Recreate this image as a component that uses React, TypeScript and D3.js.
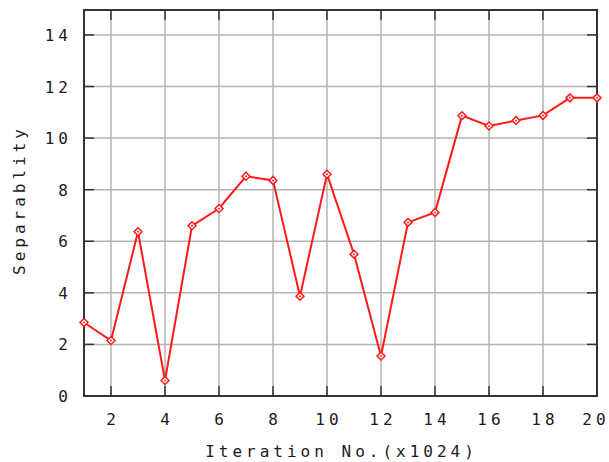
import { useEffect, useRef } from 'react';
import * as d3 from 'd3';

const iterations = [1, 2, 3, 4, 5, 6, 7, 8, 9, 10, 11, 12, 13, 14, 15, 16, 17, 18, 19, 20];
const separability = [2.85, 2.15, 6.37, 0.6, 6.6, 7.27, 8.52, 8.36, 3.87, 8.6, 5.5, 1.55, 6.73, 7.12, 10.87, 10.47, 10.68, 10.88, 11.56, 11.56];
const xTicks = [2, 4, 6, 8, 10, 12, 14, 16, 18, 20];
const yTicks = [0, 2, 4, 6, 8, 10, 12, 14];

const FONT = '"DejaVu Sans Mono", monospace';
const LS = 4;

const App = () => {
  const svgRef = useRef<SVGSVGElement>(null);

  useEffect(() => {
    drawChart();
  }, []);

  const drawChart = () => {
    const width = 609;
    const height = 462;
    const left = 84, right = 597, top = 10, bottom = 396;

    const svg = d3.select(svgRef.current)
      .attr('width', width)
      .attr('height', height);
    svg.selectAll('*').remove();

    const x = d3.scaleLinear().domain([1, 20]).range([left, right]);
    const y = d3.scaleLinear().domain([0, 15]).range([bottom, bottom - 15 * 25.79]);

    svg.append('rect')
      .attr('width', width)
      .attr('height', height)
      .attr('fill', '#fff');

    // grid
    svg.selectAll()
      .data(xTicks.filter(d => d < 20))
      .join('line')
        .attr('x1', d => x(d)).attr('x2', d => x(d))
        .attr('y1', top).attr('y2', bottom)
        .attr('stroke', '#b4b4b4')
        .attr('stroke-width', 1.5);
    svg.selectAll()
      .data(yTicks.filter(d => d > 0))
      .join('line')
        .attr('x1', left).attr('x2', right)
        .attr('y1', d => y(d)).attr('y2', d => y(d))
        .attr('stroke', '#b4b4b4')
        .attr('stroke-width', 1.5);

    // ticks (inward, on all sides)
    const tickLen = 10;
    const ticks = svg.append('g').attr('stroke', '#333').attr('stroke-width', 1.5);
    xTicks.forEach(d => {
      ticks.append('line').attr('x1', x(d)).attr('x2', x(d)).attr('y1', bottom).attr('y2', bottom - tickLen);
      ticks.append('line').attr('x1', x(d)).attr('x2', x(d)).attr('y1', top).attr('y2', top + tickLen);
    });
    yTicks.forEach(d => {
      ticks.append('line').attr('x1', left).attr('x2', left + tickLen).attr('y1', y(d)).attr('y2', y(d));
      ticks.append('line').attr('x1', right).attr('x2', right - tickLen).attr('y1', y(d)).attr('y2', y(d));
    });

    // frame
    svg.append('rect')
      .attr('x', left).attr('y', top)
      .attr('width', right - left).attr('height', bottom - top)
      .attr('fill', 'none')
      .attr('stroke', '#333')
      .attr('stroke-width', 2);

    // tick labels
    svg.selectAll()
      .data(xTicks)
      .join('text')
        .attr('x', d => Math.min(x(d), 594) + LS / 2)
        .attr('y', 425)
        .attr('text-anchor', 'middle')
        .text(d => d);
    svg.selectAll()
      .data(yTicks)
      .join('text')
        .attr('x', 68 + LS)
        .attr('y', d => y(d) + 6)
        .attr('text-anchor', 'end')
        .text(d => d);

    // axis titles
    svg.append('text')
      .attr('x', (left + right) / 2 + LS / 2 - 1)
      .attr('y', 457)
      .attr('text-anchor', 'middle')
      .text('Iteration No.(x1024)');
    svg.append('text')
      .attr('transform', 'translate(25,202) rotate(-90)')
      .attr('text-anchor', 'middle')
      .attr('dx', LS / 2)
      .text('Separablity');

    svg.selectAll('text')
      .attr('font-family', FONT)
      .attr('font-size', 16)
      .attr('letter-spacing', LS)
      .attr('fill', '#1a1a1a');

    // series
    const pts = iterations.map((d, i) => [x(d), y(separability[i])] as [number, number]);
    svg.append('path')
      .attr('d', d3.line()(pts))
      .attr('fill', 'none')
      .attr('stroke', '#ff1a1a')
      .attr('stroke-width', 2);

    const diamond = d3.symbol().type(d3.symbolDiamond2).size(40);
    svg.selectAll()
      .data(pts)
      .join('path')
        .attr('d', diamond)
        .attr('transform', d => `translate(${d[0]},${d[1]})`)
        .attr('fill', '#fff')
        .attr('stroke', '#ff1a1a')
        .attr('stroke-width', 1.5);
    svg.selectAll()
      .data(pts)
      .join('circle')
        .attr('cx', d => d[0]).attr('cy', d => d[1])
        .attr('r', 1)
        .attr('fill', '#ff1a1a');
  };

  return <svg ref={svgRef} width={609} height={462} style={{ position: 'absolute', left: 0, top: 0 }} />;
};

export default App;
